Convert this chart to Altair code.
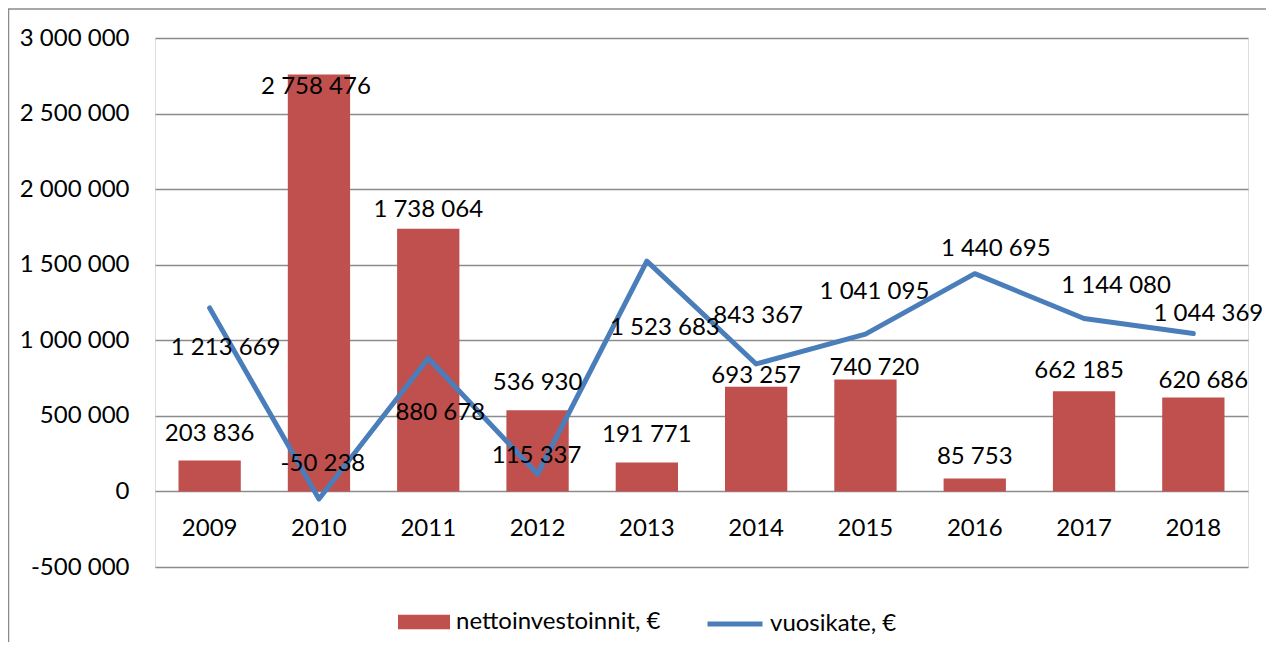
import altair as alt
import pandas as pd

# ---- data ----
years = ["2009", "2010", "2011", "2012", "2013", "2014", "2015", "2016", "2017", "2018"]
nettoinvestoinnit = [203836, 2758476, 1738064, 536930, 191771, 693257, 740720, 85753, 662185, 620686]
vuosikate = [1213669, -50238, 880678, 115337, 1523683, 843367, 1041095, 1440695, 1144080, 1044369]
y_ticks = [-500000, 0, 500000, 1000000, 1500000, 2000000, 2500000, 3000000]
SERIES_BAR = "nettoinvestoinnit, €"
SERIES_LINE = "vuosikate, €"

df = pd.DataFrame({"vuosi": years, "netto": nettoinvestoinnit, "vk": vuosikate})

# ---- styling ----
FONT = "Lato"
FS = 24
BAR_COLOR = "#C0504D"
LINE_COLOR = "#4A7EBB"
GRID_COLOR = "#8C8C8C"
W, H = 1093, 529
Y_MIN, Y_MAX = -500000, 3000000
ZERO_OFFSET = -H * (0 - Y_MIN) / (Y_MAX - Y_MIN)

# label placement nudges (pixels relative to the data point), as in the reference
bar_nudge = {"2009": (0, -27), "2010": (-3, 12), "2011": (0, -19), "2012": (0, -27),
             "2013": (0, -27), "2014": (0, -11), "2015": (9, -11), "2016": (0, -21),
             "2017": (-5, -20), "2018": (10, -17)}
line_nudge = {"2009": (16, 40), "2010": (4, -35), "2011": (12, 55), "2012": (-1, -18),
              "2013": (18, 67), "2014": (2, -48), "2015": (9, -42), "2016": (21, -25),
              "2017": (32, -33), "2018": (15, -20)}


def fmt(expr):
    return ("replace(replace(format(" + expr + ", ','), regexp(',', 'g'), ' '), '\u2212', '-')")


x_enc = alt.X(
    "vuosi:N", sort=years,
    scale=alt.Scale(paddingInner=0.43, paddingOuter=0.215),
    axis=alt.Axis(title=None, orient="bottom", offset=ZERO_OFFSET, domain=False, ticks=False,
                  tickSize=0, labelPadding=37, labelAngle=0, labelBaseline="middle",
                  labelFont=FONT, labelFontSize=FS, labelColor="black", grid=False),
)
y_scale = alt.Scale(domain=[Y_MIN, Y_MAX], nice=False, zero=False)

base = alt.Chart(df)

bars = base.transform_calculate(sarja="'" + SERIES_BAR + "'").mark_bar(color=BAR_COLOR).encode(
    x=x_enc,
    y=alt.Y("netto:Q", scale=y_scale,
            axis=alt.Axis(title=None, values=y_ticks, labelExpr=fmt("datum.value"), grid=True,
                          gridColor=GRID_COLOR, gridWidth=1.5, domain=False, ticks=False, tickSize=0,
                          labelPadding=26, labelFont=FONT, labelFontSize=FS, labelColor="black")),
    fill=alt.Fill("sarja:N", scale=alt.Scale(domain=[SERIES_BAR], range=[BAR_COLOR]),
                  legend=alt.Legend(title=None, orient="none", legendX=243, legendY=558, padding=0,
                                    symbolType="M-1,-0.28H1V0.28H-1Z", symbolSize=2704,
                                    symbolStrokeWidth=0, labelOffset=6, labelLimit=600,
                                    labelFont=FONT, labelFontSize=FS, labelColor="black")),
)

line = base.transform_calculate(sarja2="'" + SERIES_LINE + "'").mark_line(
    strokeWidth=5, strokeCap="round", strokeJoin="round").encode(
    x=x_enc,
    y=alt.Y("vk:Q", scale=y_scale),
    stroke=alt.Stroke("sarja2:N", scale=alt.Scale(domain=[SERIES_LINE], range=[LINE_COLOR]),
                      legend=alt.Legend(title=None, orient="none", legendX=550, legendY=556, padding=0,
                                        symbolType="stroke", symbolSize=3025, symbolStrokeWidth=5,
                                        labelOffset=5, labelLimit=600, labelFont=FONT,
                                        labelFontSize=FS, labelColor="black")),
)

frame = alt.Chart(pd.DataFrame({"k": [0]})).mark_rect(
    fillOpacity=0, stroke="#8A8A8A", strokeWidth=1.5).encode(
    x=alt.value(-146.5), x2=alt.value(W + 40), y=alt.value(-29), y2=alt.value(H + 90))

layers = [frame, bars, line]
for yr in years:
    dx, dy = bar_nudge[yr]
    layers.append(
        base.transform_filter(alt.datum.vuosi == yr)
        .transform_calculate(t=fmt("datum.netto"))
        .mark_text(dx=dx, dy=dy, font=FONT, fontSize=FS, color="black", baseline="middle")
        .encode(x=x_enc, y=alt.Y("netto:Q", scale=y_scale), text="t:N")
    )
    dx, dy = line_nudge[yr]
    layers.append(
        base.transform_filter(alt.datum.vuosi == yr)
        .transform_calculate(t=fmt("datum.vk"))
        .mark_text(dx=dx, dy=dy, font=FONT, fontSize=FS, color="black", baseline="middle")
        .encode(x=x_enc, y=alt.Y("vk:Q", scale=y_scale), text="t:N")
    )

chart = alt.layer(*layers).resolve_legend(fill="independent", stroke="independent").properties(
    width=W, height=H,
    padding={"left": 147, "top": 30, "right": 18, "bottom": 75},
    autosize=alt.AutoSizeParams(type="none"),
).configure_view(stroke=None).configure(font=FONT)

chart.save("out.html", embed_options={"renderer": "svg", "actions": False})
